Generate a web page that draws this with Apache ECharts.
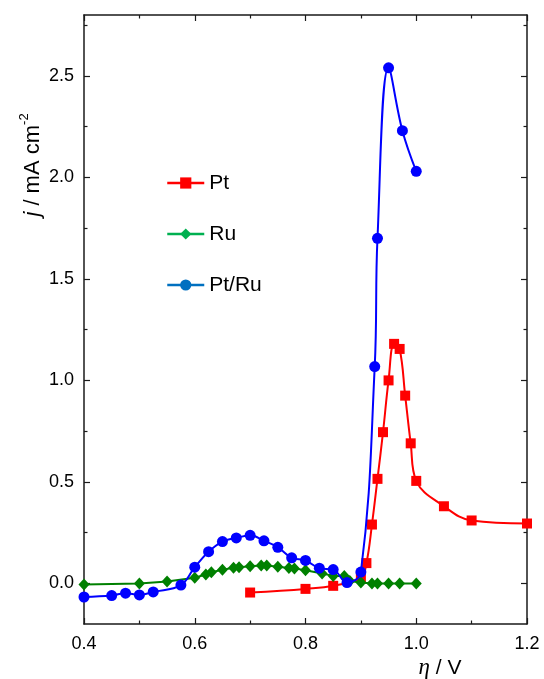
<!DOCTYPE html>
<html>
<head>
<meta charset="utf-8">
<script src="https://cdn.jsdelivr.net/npm/echarts@6/dist/echarts.min.js"></script>
<style>html,body{margin:0;padding:0;background:#fff;}#c{width:544px;height:679px;}</style>
</head>
<body>
<div id="c"></div>
<script>
// ---- data ----
const ptX = [0.7, 0.8, 0.85, 0.9, 0.91, 0.92, 0.93, 0.94, 0.95, 0.96, 0.97, 0.98, 0.99, 1.0, 1.05, 1.1, 1.2];
const ptY = [-0.045, -0.027, -0.012, 0.03, 0.1, 0.29, 0.515, 0.745, 1.0, 1.18, 1.155, 0.925, 0.69, 0.505, 0.38, 0.31, 0.295];

const ruX = [0.4, 0.5, 0.55, 0.6, 0.62, 0.63, 0.65, 0.67, 0.68, 0.7, 0.72, 0.73, 0.75, 0.77, 0.78, 0.8, 0.83, 0.85, 0.87, 0.88, 0.9, 0.92, 0.93, 0.95, 0.97, 1.0];
const ruY = [-0.005, 0.0, 0.009, 0.028, 0.044, 0.055, 0.067, 0.077, 0.079, 0.085, 0.088, 0.088, 0.082, 0.076, 0.074, 0.065, 0.049, 0.037, 0.036, 0.012, 0.005, 0.0, 0.0, 0.0, 0.0, 0.0];

const ptruX = [0.4, 0.45, 0.475, 0.5, 0.525, 0.575, 0.6, 0.625, 0.65, 0.675, 0.7, 0.725, 0.75, 0.775, 0.8, 0.825, 0.85, 0.875, 0.9, 0.925, 0.93, 0.95, 0.975, 1.0];
const ptruY = [-0.067, -0.06, -0.048, -0.057, -0.042, -0.008, 0.08, 0.156, 0.206, 0.224, 0.237, 0.21, 0.178, 0.126, 0.113, 0.075, 0.068, 0.004, 0.056, 1.068, 1.70, 2.54, 2.23, 2.03];

const yMajorTicks = [0, 0.5, 1.0, 1.5, 2.0, 2.5];
const yMinorTicks = [0.25, 0.75, 1.25, 1.75, 2.25, 2.75];
const xTickLabels = ['0.4', '0.6', '0.8', '1.0', '1.2'];

const seriesNames = ['Pt', 'Ru', 'Pt/Ru'];
const seriesColors = ['#ff0000', '#008000', '#0000ff'];
const legendColors = ['#ff0000', '#00b050', '#0070c0'];

function pairs(xs, ys) { return xs.map((x, i) => [x, ys[i]]); }

const chart = echarts.init(document.getElementById('c'), null, {renderer: 'canvas'});
const FONT = 'Liberation Sans, Arial, sans-serif';
const AX = '#1a1a1a';

const baseX = {
  type: 'value', min: 0.4, max: 1.2, interval: 0.2,
  axisLine: {show: true, onZero: false, lineStyle: {color: AX, width: 1.5}},
  axisTick: {show: true, inside: true, length: 6, lineStyle: {color: AX, width: 1.2}},
  minorTick: {show: true, splitNumber: 2, length: 3.5, lineStyle: {color: AX, width: 1.2}},
  splitLine: {show: false}, minorSplitLine: {show: false}
};
const baseY = {
  type: 'value', min: -0.2, max: 2.8,
  axisLine: {show: true, onZero: false, lineStyle: {color: AX, width: 1.5}},
  splitLine: {show: false}
};

const option = {
  animation: false,
  backgroundColor: '#fff',
  grid: {left: 84, right: 17, top: 15, bottom: 55, containLabel: false},
  xAxis: [
    Object.assign({}, baseX, {position: 'bottom',
      axisLabel: {show: true, fontSize: 18, fontFamily: FONT, color: '#000', margin: 11,
        formatter: v => { const i = Math.round((v - 0.4) / 0.2); return xTickLabels[i] || ''; }}}),
    Object.assign({}, baseX, {position: 'top', axisLabel: {show: false}})
  ],
  yAxis: [
    Object.assign({}, baseY, {position: 'left',
      axisTick: {show: true, inside: true, length: 6, customValues: yMajorTicks, lineStyle: {color: AX, width: 1.2}},
      axisLabel: {show: true, customValues: yMajorTicks, fontSize: 18, fontFamily: FONT, color: '#000', margin: 10,
        formatter: v => v.toFixed(1)}}),
    Object.assign({}, baseY, {position: 'left', axisLine: {show: false},
      axisTick: {show: true, inside: true, length: 3.5, customValues: yMinorTicks, lineStyle: {color: AX, width: 1.2}},
      axisLabel: {show: false}}),
    Object.assign({}, baseY, {position: 'right',
      axisTick: {show: true, inside: true, length: 6, customValues: yMajorTicks, lineStyle: {color: AX, width: 1.2}},
      axisLabel: {show: false}}),
    Object.assign({}, baseY, {position: 'right', axisLine: {show: false},
      axisTick: {show: true, inside: true, length: 3.5, customValues: yMinorTicks, lineStyle: {color: AX, width: 1.2}},
      axisLabel: {show: false}})
  ],
  legend: {
    orient: 'vertical', left: 161, top: 167,
    itemWidth: 37, itemHeight: 14, itemGap: 29,
    textStyle: {fontSize: 21, fontFamily: FONT, color: '#000', lineHeight: 22},
    data: seriesNames.map((n, i) => ({name: n,
      itemStyle: {color: legendColors[i]},
      lineStyle: {color: legendColors[i], width: 2.5}}))
  },
  series: [
    {name: seriesNames[0], type: 'line', xAxisIndex: 0, yAxisIndex: 0, data: pairs(ptX, ptY),
      smooth: 0.4, symbol: 'rect', symbolSize: 10, z: 2,
      itemStyle: {color: seriesColors[0]}, lineStyle: {color: seriesColors[0], width: 2}},
    {name: seriesNames[1], type: 'line', xAxisIndex: 0, yAxisIndex: 0, data: pairs(ruX, ruY),
      smooth: false, symbol: 'diamond', symbolSize: [11, 12], z: 3,
      itemStyle: {color: seriesColors[1]}, lineStyle: {color: seriesColors[1], width: 2}},
    {name: seriesNames[2], type: 'line', xAxisIndex: 0, yAxisIndex: 0, data: pairs(ptruX, ptruY),
      smooth: 0.4, symbol: 'circle', symbolSize: 11, z: 4,
      itemStyle: {color: seriesColors[2]}, lineStyle: {color: seriesColors[2], width: 2}}
  ],
  graphic: [
    {type: 'text', x: 33, y: 165, rotation: Math.PI / 2,
      style: {text: '{i|j} / mA cm{s|-2}', fontSize: 22, fontFamily: FONT, fill: '#000',
        align: 'center', verticalAlign: 'middle', lineHeight: 30,
        rich: {
          i: {fontStyle: 'italic', fontSize: 22, fontFamily: FONT, lineHeight: 30},
          s: {fontSize: 13, fontFamily: FONT, verticalAlign: 'top', lineHeight: 30}
        }}},
    {type: 'text', x: 440, y: 668,
      style: {text: '{e|η} / V', fontSize: 21, fontFamily: FONT, fill: '#000',
        align: 'center', verticalAlign: 'middle',
        rich: {e: {fontStyle: 'italic', fontSize: 23, fontFamily: 'Liberation Serif, serif'}}}}
  ]
};
chart.setOption(option);
</script>
</body>
</html>
